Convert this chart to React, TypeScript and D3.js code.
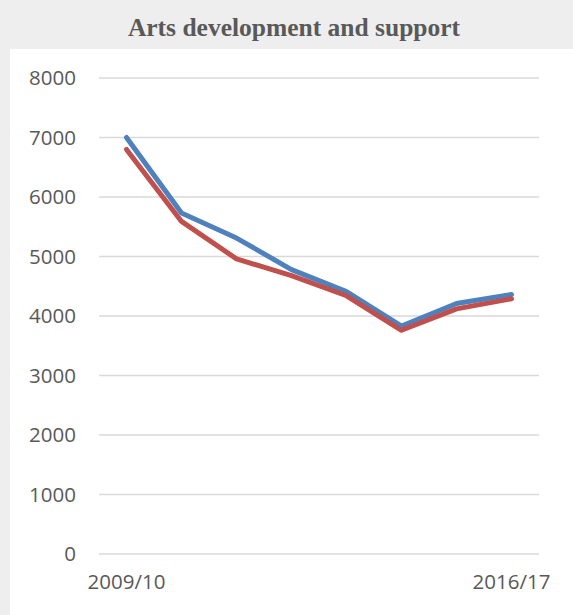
import React from "react";
import * as d3 from "d3";

const categories = ["2009/10", "2010/11", "2011/12", "2012/13", "2013/14", "2014/15", "2015/16", "2016/17"];
const seriesBlue = [7000, 5730, 5310, 4780, 4410, 3830, 4210, 4360];
const seriesRed = [6800, 5590, 4960, 4680, 4340, 3760, 4120, 4290];
const yTicks = [0, 1000, 2000, 3000, 4000, 5000, 6000, 7000, 8000];
const xLabelsShown = ["2009/10", "2016/17"];
const title = "Arts development and support";

const W = 573;
const H = 615;

export default function App() {
  const x = d3.scaleBand<string>().domain(categories).range([99, 539]);
  const y = d3.scaleLinear().domain([0, 8000]).range([554, 78]);
  const px = (c: string) => (x(c) as number) + x.bandwidth() / 2;
  const line = d3
    .line<number>()
    .x((_, i) => px(categories[i]))
    .y((d) => y(d));
  const labelFont = "'Open Sans', Lato, sans-serif";
  return (
    <div style={{ position: "fixed", left: 0, top: 0 }}>
      <svg width={W} height={H} style={{ display: "block" }}>
        <rect x={0} y={0} width={W} height={H} fill="#eeeeee" />
        <rect x={10} y={49} width={W - 10} height={H - 49} fill="#ffffff" />
        <text
          x={294}
          y={36}
          textAnchor="middle"
          fontFamily="'Liberation Serif', 'Times New Roman', serif"
          fontWeight="bold"
          fontSize={25.5}
          fill="#595959"
        >
          {title}
        </text>
        {yTicks.map((t) => (
          <g key={t}>
            <line x1={99} x2={539} y1={y(t)} y2={y(t)} stroke="#d9d9d9" strokeWidth={1.3} />
            <text
              x={76}
              y={y(t)}
              dy="0.36em"
              textAnchor="end"
              fontFamily={labelFont}
              fontSize={20.5}
              fill="#595959"
            >
              {t}
            </text>
          </g>
        ))}
        {xLabelsShown.map((c) => (
          <text
            key={c}
            x={px(c)}
            y={589}
            textAnchor="middle"
            fontFamily={labelFont}
            fontSize={20.5}
            fill="#595959"
          >
            {c}
          </text>
        ))}
        <path d={line(seriesBlue) || ""} fill="none" stroke="#4f81bd" strokeWidth={5} strokeLinejoin="round" strokeLinecap="round" />
        <path d={line(seriesRed) || ""} fill="none" stroke="#c0504d" strokeWidth={5} strokeLinejoin="round" strokeLinecap="round" />
      </svg>
    </div>
  );
}
